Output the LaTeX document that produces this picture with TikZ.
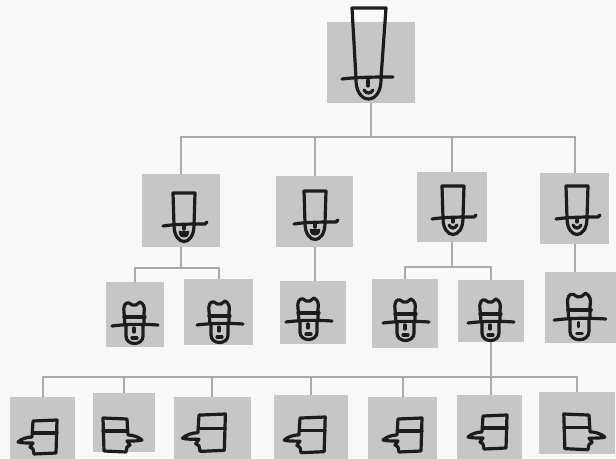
\documentclass[tikz,border=0pt]{standalone}
\usetikzlibrary{calc}
\definecolor{paper}{HTML}{F8F8F8}
\definecolor{panel}{HTML}{C6C6C6}
\definecolor{wire}{HTML}{AAAAAA}
\definecolor{ink}{HTML}{1C1C1C}
\tikzset{
  panelbox/.style={fill=panel, draw=none, inner sep=0pt, outer sep=0pt},
  wirel/.style={draw=wire, line width=2pt},
  inkline/.style={draw=ink, line width=3.2pt, line cap=round, line join=round},
  % tall top hat, origin at the centre of the brim
  tallhat/.pic={
    \draw[inkline] (-12,0) -- (-16,-70) -- (18,-70) -- (13,0);
    \draw[inkline] (-26,1) .. controls (-10,-1) and (10,-1) .. (25,-1);
    \draw[inkline] (-12,0) .. controls (-13,28) and (14,28) .. (13,0);
    \draw[inkline] (0,2) -- (0,8);
    \draw[inkline] (-4,12) .. controls (-2,16) and (3,16) .. (5,12);
  },
  % short top hat, origin at the centre of the brim
  tophat/.pic={
    \draw[inkline] (-10,0) -- (-11,-32) -- (11,-32) -- (10,0);
    \draw[inkline] (-21,1) .. controls (-8,-1) and (8,-1) .. (21,-1) -- (23,-3);
    \draw[inkline] (-10,0) .. controls (-10,22) and (10,22) .. (10,0);
    \draw[inkline] (0,1) -- (0,4);
    \draw[inkline] (-4,7) .. controls (-2,11) and (2,11) .. (4,7);
  },
  % dark mouth for some of the short-hat faces
  darkmouth/.pic={
    \fill[ink] (0,9) ellipse [x radius=5, y radius=3.5];
  },
  % fedora, origin at the centre of the brim
  fedora/.pic={
    \draw[inkline] (-10,0) -- (-11,-13) .. controls (-12,-20) and (-9,-23) .. (-6,-22)
      .. controls (-4,-20) and (-1,-19) .. (1,-20) -- (5,-23)
      .. controls (9,-21) and (10,-17) .. (9,-12) -- (9,0);
    \draw[inkline] (-11,-8) -- (10,-8);
    \draw[inkline] (-23,1) .. controls (-8,-1) and (8,-1) .. (23,0);
    \draw[inkline] (-9,0) -- (-9,11) .. controls (-9,21) and (8,21) .. (8,11) -- (8,0);
    \draw[inkline] (-1,3) -- (-1,7);
    \draw[inkline] (-3,13) -- (2,13);
  },
  % cap in profile looking left, origin at the top left of the head
  sidecap/.pic={
    \draw[inkline] (0,1) -- (24,0) -- (23,33) -- (1,34) -- (0,29) -- (-3,27) -- (0,23)
      .. controls (-6,23) and (-12,23) .. (-15,22)
      .. controls (-12,19) and (-6,17) .. (-1,17) -- cycle;
    \draw[inkline] (0,13) -- (24,13);
  },
}
\begin{document}
\begin{tikzpicture}[x=1pt,y=-1pt]
  \useasboundingbox (0,0) rectangle (616,458);
  \fill[paper] (0,0) rectangle (616,458);
  \clip (0,0) rectangle (616,458);

  % panels
  \node[panelbox, minimum width=88pt, minimum height=81pt] (boss) at (371,62.5) {};

  \node[panelbox, minimum width=78pt, minimum height=73pt] (m1) at (181,210.5) {};
  \node[panelbox, minimum width=77pt, minimum height=71pt] (m2) at (314.5,211.5) {};
  \node[panelbox, minimum width=70pt, minimum height=70pt] (m3) at (452,207) {};
  \node[panelbox, minimum width=69pt, minimum height=71pt] (m4) at (574.5,208.5) {};

  \node[panelbox, minimum width=58pt, minimum height=65pt] (s1) at (135,314.5) {};
  \node[panelbox, minimum width=69pt, minimum height=66pt] (s2) at (218.5,312) {};
  \node[panelbox, minimum width=66pt, minimum height=63pt] (s3) at (313,312.5) {};
  \node[panelbox, minimum width=66pt, minimum height=69pt] (s4) at (405,313.5) {};
  \node[panelbox, minimum width=66pt, minimum height=62pt] (s5) at (491,311) {};
  \node[panelbox, minimum width=71pt, minimum height=71pt] (s6) at (580.5,307.5) {};

  \node[panelbox, minimum width=65pt, minimum height=68pt] (w1) at (42.5,431) {};
  \node[panelbox, minimum width=62pt, minimum height=59pt] (w2) at (124,422.5) {};
  \node[panelbox, minimum width=77pt, minimum height=68pt] (w3) at (212,431) {};
  \node[panelbox, minimum width=74pt, minimum height=70pt] (w4) at (311,430) {};
  \node[panelbox, minimum width=69pt, minimum height=68pt] (w5) at (402.5,431) {};
  \node[panelbox, minimum width=65pt, minimum height=70pt] (w6) at (489.5,430) {};
  \node[panelbox, minimum width=76pt, minimum height=62pt] (w7) at (577,423) {};

  % connectors
  \coordinate (busA) at (371,137);
  \coordinate (busB) at (181,268);
  \coordinate (busC) at (452,267);
  \coordinate (busD) at (491,377);

  \draw[wirel] (boss.south) -- (busA);
  \draw[wirel] (m1.north) -- (m1.north |- busA) -- (m4.north |- busA) -- (m4.north);
  \draw[wirel] (m2.north) -- (m2.north |- busA);
  \draw[wirel] (m3.north) -- (m3.north |- busA);

  \draw[wirel] (m1.south) -- (busB);
  \draw[wirel] (s1.north) -- (s1.north |- busB) -- (s2.north |- busB) -- (s2.north);
  \draw[wirel] (m2.south) -- (m2.south |- s3.north);

  \draw[wirel] (m3.south) -- (busC);
  \draw[wirel] (s4.north) -- (s4.north |- busC) -- (s5.north |- busC) -- (s5.north);
  \draw[wirel] (m4.south) -- (m4.south |- s6.north);

  \draw[wirel] (s5.south) -- (s5.south |- w6.north);
  \draw[wirel] (w1.north) -- (w1.north |- busD) -- (w7.north |- busD) -- (w7.north);
  \foreach \n in {w2,w3,w4,w5}
    \draw[wirel] (\n.north) -- (\n.north |- busD);

  % heads
  \pic at (368,78) {tallhat};

  \pic at (184,225) {tophat};
  \pic at (184,225) {darkmouth};
  \pic at (315,223) {tophat};
  \pic at (315,223) {darkmouth};
  \pic at (453,218) {tophat};
  \pic at (577,218) {tophat};

  \pic at (135,325) {fedora};
  \pic at (220,324) {fedora};
  \pic at (309,321) {fedora};
  \pic at (406,322) {fedora};
  \pic at (491,322) {fedora};
  \pic[scale=1.12] at (580,319) {fedora};

  \pic at (33,420) {sidecap};
  \pic[xscale=-1] at (127,418) {sidecap};
  \pic[scale=1.1] at (199,414) {sidecap};
  \pic[scale=1.05] at (300,417) {sidecap};
  \pic at (398,418) {sidecap};
  \pic at (483,415) {sidecap};
  \pic[xscale=-1, scale=1.05] at (589,414) {sidecap};
\end{tikzpicture}
\end{document}
